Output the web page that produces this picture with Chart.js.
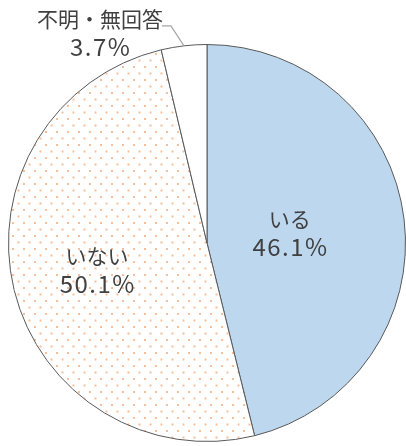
<!DOCTYPE html>
<html>
<head>
<meta charset="utf-8">
<script src="https://cdn.jsdelivr.net/npm/chart.js@4.4.1/dist/chart.umd.min.js"></script>
<style>
html,body{margin:0;padding:0;background:#fff;}
#wrap{width:406px;height:446px;position:relative;}
</style>
</head>
<body>
<div id="wrap"><canvas id="c" width="406" height="446"></canvas></div>
<script>
const categories = ["いる", "いない", "不明・無回答"];
const values = [46.1, 50.1, 3.7];
const valueLabels = ["46.1%", "50.1%", "3.7%"];

function dotPattern() {
  const t = document.createElement('canvas');
  t.width = 11; t.height = 13;
  const g = t.getContext('2d');
  g.fillStyle = '#ffffff';
  g.fillRect(0, 0, 11, 13);
  g.fillStyle = '#f5c09a';
  g.fillRect(1, 1, 2, 2);
  g.fillRect(6.5, 7.5, 2, 2);
  return document.getElementById('c').getContext('2d').createPattern(t, 'repeat');
}

const labelPlugin = {
  id: 'pieLabels',
  afterDatasetsDraw(chart) {
    const ctx = chart.ctx;
    const meta = chart.getDatasetMeta(0);
    const catFont = '21px "Noto Sans CJK JP", "Noto Sans", sans-serif';
    const numFont = '24px "Noto Sans CJK JP", "Noto Sans", sans-serif';
    function txt(s, x, y, isNum) {
      ctx.font = isNum ? numFont : catFont;
      ctx.letterSpacing = isNum ? '1.5px' : '0px';
      ctx.fillText(s, x + (isNum ? 0.75 : 0), y);
    }
    ctx.save();
    ctx.fillStyle = '#404040';
    ctx.textAlign = 'center';
    ctx.textBaseline = 'middle';
    const inner = [0.42, 0.57];
    for (let i = 0; i < 2; i++) {
      const a = meta.data[i];
      const mid = (a.startAngle + a.endAngle) / 2;
      const r = a.outerRadius * inner[i];
      const x = a.x + Math.cos(mid) * r;
      const y = a.y + Math.sin(mid) * r;
      txt(categories[i], x, y - 14, false);
      txt(valueLabels[i], x, y + 14, true);
    }
    const a = meta.data[2];
    const mid = (a.startAngle + a.endAngle) / 2;
    const px = a.x + Math.cos(mid) * a.outerRadius;
    const py = a.y + Math.sin(mid) * a.outerRadius;
    ctx.strokeStyle = '#a6a6a6';
    ctx.lineWidth = 1.2;
    ctx.beginPath();
    ctx.moveTo(px, py);
    ctx.lineTo(px - 13, py - 20);
    ctx.lineTo(px - 22, py - 20);
    ctx.stroke();
    txt(categories[2], px - 84, py - 27, false);
    txt(valueLabels[2], px - 84, py + 1, true);
    ctx.restore();
  }
};

new Chart(document.getElementById('c'), {
  type: 'pie',
  data: {
    labels: categories,
    datasets: [{
      data: values,
      backgroundColor: ['#bdd7ee', dotPattern(), '#ffffff'],
      borderColor: '#595959',
      borderWidth: 1
    }]
  },
  options: {
    responsive: false,
    animation: false,
    layout: { padding: { top: 44, bottom: 4, left: 8, right: 0 } },
    plugins: { legend: { display: false }, tooltip: { enabled: false } }
  },
  plugins: [labelPlugin]
});
</script>
</body>
</html>
